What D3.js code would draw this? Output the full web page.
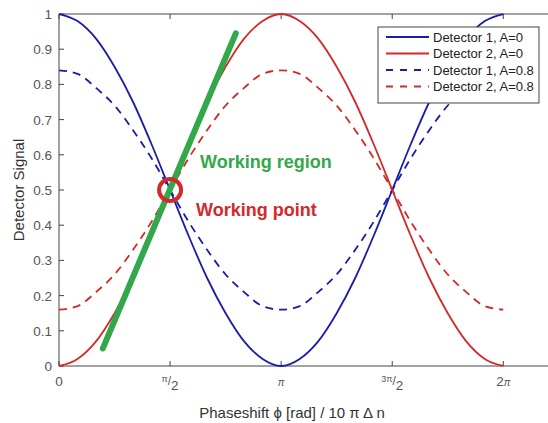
<!DOCTYPE html>
<html>
<head>
<meta charset="utf-8">
<script src="https://cdn.jsdelivr.net/npm/d3@7"></script>
<style>
  body { margin: 0; background: #fff; }
  text { font-family: "Liberation Sans", Arial, sans-serif; }
</style>
</head>
<body>
<script>
// phase samples, in steps of pi/12 from 0 to 2pi
var steps = d3.range(0, 25);
// values at each sample
var det1A0 = [1, 0.98, 0.93, 0.85, 0.75, 0.63, 0.5, 0.37, 0.25, 0.15, 0.07, 0.02, 0,
              0.02, 0.07, 0.15, 0.25, 0.37, 0.5, 0.63, 0.75, 0.85, 0.93, 0.98, 1];
var det2A0 = [0, 0.02, 0.07, 0.15, 0.25, 0.37, 0.5, 0.63, 0.75, 0.85, 0.93, 0.98, 1,
              0.98, 0.93, 0.85, 0.75, 0.63, 0.5, 0.37, 0.25, 0.15, 0.07, 0.02, 0];
var det1A08 = [0.84, 0.83, 0.79, 0.74, 0.67, 0.59, 0.5, 0.41, 0.33, 0.26, 0.21, 0.17, 0.16,
               0.17, 0.21, 0.26, 0.33, 0.41, 0.5, 0.59, 0.67, 0.74, 0.79, 0.83, 0.84];
var det2A08 = [0.16, 0.17, 0.21, 0.26, 0.33, 0.41, 0.5, 0.59, 0.67, 0.74, 0.79, 0.83, 0.84,
               0.83, 0.79, 0.74, 0.67, 0.59, 0.5, 0.41, 0.33, 0.26, 0.21, 0.17, 0.16];
var seriesNames = ["Detector 1, A=0", "Detector 2, A=0", "Detector 1, A=0.8", "Detector 2, A=0.8"];
var yTicks = [0, 0.1, 0.2, 0.3, 0.4, 0.5, 0.6, 0.7, 0.8, 0.9, 1];
var xTicks = [0, 1, 2, 3, 4]; // multiples of pi/2
// working region line ends and working point
var regionLine = [[0.62, 0.05], [2.5, 0.945]];
var workPoint = [Math.PI / 2, 0.5];

var W = 548, H = 423;
var pL = 59, pT = 14, pB = 366, pR = 554;

var svg = d3.select("body").append("svg").attr("width", W).attr("height", H);

var x = d3.scaleLinear().domain([0, 7]).range([pL, pR]);
var y = d3.scaleLinear().domain([0, 1]).range([pB, pT]);
var axisCol = "#444";
var blue = "#1c1ca6", red = "#d22a2a", green = "#33a84a";

// box
svg.append("line").attr("x1", pL).attr("x2", pR).attr("y1", pT).attr("y2", pT)
  .attr("stroke", axisCol);
svg.append("line").attr("x1", pL).attr("x2", pR).attr("y1", pB).attr("y2", pB)
  .attr("stroke", axisCol);
svg.append("line").attr("x1", pL).attr("x2", pL).attr("y1", pT).attr("y2", pB)
  .attr("stroke", axisCol);

// y ticks
yTicks.forEach(function(t){
  svg.append("line").attr("x1", pL).attr("x2", pL + 5)
    .attr("y1", y(t)).attr("y2", y(t)).attr("stroke", axisCol);
  svg.append("text").attr("x", pL - 7).attr("y", y(t) + 5)
    .attr("text-anchor", "end").attr("font-size", 13.5).attr("fill", "#555")
    .text(t);
});

// x ticks
xTicks.forEach(function(k){
  var px = x(k * Math.PI / 2);
  svg.append("line").attr("x1", px).attr("x2", px).attr("y1", pB).attr("y2", pB - 5)
    .attr("stroke", axisCol);
  svg.append("line").attr("x1", px).attr("x2", px).attr("y1", pT).attr("y2", pT + 5)
    .attr("stroke", axisCol);
  var t = svg.append("text").attr("x", px).attr("y", pB + 20)
    .attr("text-anchor", "middle").attr("fill", "#555").attr("font-size", 13.5);
  if (k == 0) t.text("0");
  else if (k == 2) t.append("tspan").attr("font-size", 10).attr("font-style", "italic").text("π");
  else if (k == 4) { t.append("tspan").text("2"); t.append("tspan").attr("font-size", 10).attr("font-style", "italic").text("π"); }
  else {
    t.append("tspan").attr("font-size", 9).attr("dy", -4).text(k == 1 ? "π" : "3π");
    t.append("tspan").attr("font-size", 12).attr("dy", 3).text("/");
    t.append("tspan").attr("font-size", 13.5).attr("dy", 5).text("2");
  }
});

// axis labels
svg.append("text").attr("x", 292).attr("y", 418).attr("text-anchor", "middle")
  .attr("font-size", 15).attr("fill", "#333").text("Phaseshift ϕ [rad] / 10 π Δ n");
svg.append("text").attr("transform", "translate(24," + 190 + ") rotate(-90)")
  .attr("text-anchor", "middle").attr("font-size", 15).attr("fill", "#333").text("Detector Signal");

// curves
var line = d3.line()
  .x(function(d, i){ return x(steps[i] * Math.PI / 12); })
  .y(function(d){ return y(d); })
  .curve(d3.curveMonotoneX);

var series = [
  {v: det1A0, c: blue, dash: null},
  {v: det2A0, c: red, dash: null},
  {v: det1A08, c: blue, dash: "8,6"},
  {v: det2A08, c: red, dash: "8,6"}
];
series.forEach(function(s){
  svg.append("path").attr("d", line(s.v)).attr("fill", "none")
    .attr("stroke", s.c).attr("stroke-width", 1.8)
    .attr("stroke-dasharray", s.dash);
});

// working region and point
svg.append("line")
  .attr("x1", x(regionLine[0][0])).attr("y1", y(regionLine[0][1]))
  .attr("x2", x(regionLine[1][0])).attr("y2", y(regionLine[1][1]))
  .attr("stroke", green).attr("stroke-width", 6).attr("stroke-linecap", "round");
svg.append("circle").attr("cx", x(workPoint[0])).attr("cy", y(workPoint[1])).attr("r", 11)
  .attr("fill", "none").attr("stroke", red).attr("stroke-width", 4);
svg.append("text").attr("x", 200).attr("y", 168).attr("font-size", 18).attr("font-weight", "bold")
  .attr("fill", green).text("Working region");
svg.append("text").attr("x", 196).attr("y", 216).attr("font-size", 18).attr("font-weight", "bold")
  .attr("fill", red).text("Working point");

// legend
var lg = svg.append("g");
lg.append("rect").attr("x", 378).attr("y", 27).attr("width", 161).attr("height", 76)
  .attr("fill", "#fff").attr("stroke", "#444");
series.forEach(function(s, i){
  var ly = 37 + i * 16.5;
  lg.append("line").attr("x1", 386).attr("x2", 429).attr("y1", ly).attr("y2", ly)
    .attr("stroke", s.c).attr("stroke-width", 1.8)
    .attr("stroke-dasharray", s.dash ? "7,7" : null);
  lg.append("text").attr("x", 433).attr("y", ly + 4.5).attr("font-size", 13)
    .attr("fill", "#222").text(seriesNames[i]);
});
</script>
</body>
</html>
